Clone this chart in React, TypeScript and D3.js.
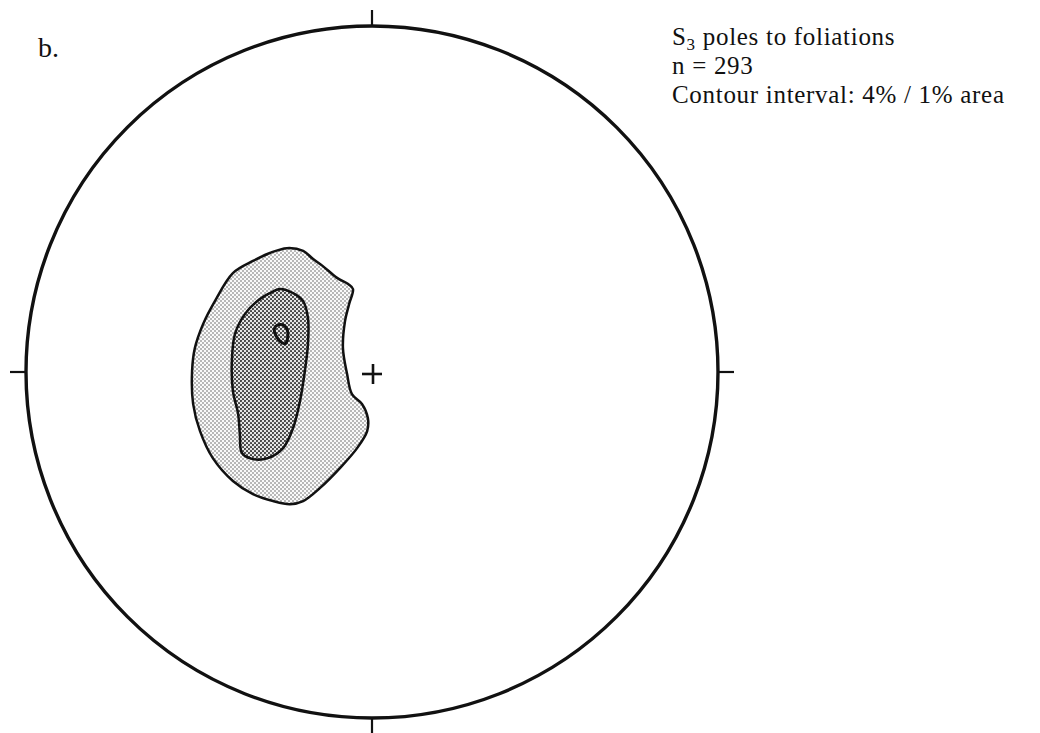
import React from "react";
import * as d3 from "d3";

// Stereonet contour lines, in unit-circle coordinates (x east, y north)
const outerContour: [number, number][] = [
  [-0.246, 0.358], [-0.199, 0.35], [-0.171, 0.327], [-0.142, 0.306], [-0.101, 0.272],
  [-0.069, 0.254], [-0.055, 0.24], [-0.066, 0.197], [-0.078, 0.147], [-0.084, 0.069],
  [-0.072, -0.006], [-0.058, -0.064], [-0.029, -0.092], [-0.012, -0.133], [-0.014, -0.171],
  [-0.043, -0.22], [-0.092, -0.277], [-0.15, -0.335], [-0.199, -0.373], [-0.237, -0.382],
  [-0.286, -0.373], [-0.344, -0.353], [-0.402, -0.315], [-0.46, -0.249], [-0.497, -0.171],
  [-0.517, -0.092], [-0.52, 0.003], [-0.512, 0.069], [-0.488, 0.139], [-0.454, 0.205],
  [-0.402, 0.286], [-0.344, 0.321], [-0.295, 0.344],
];

const middleContour: [number, number][] = [
  [-0.266, 0.24], [-0.228, 0.228], [-0.199, 0.205], [-0.185, 0.156], [-0.185, 0.081],
  [-0.194, 0.003], [-0.208, -0.084], [-0.228, -0.162], [-0.257, -0.22], [-0.301, -0.249],
  [-0.347, -0.251], [-0.376, -0.234], [-0.382, -0.179], [-0.387, -0.121], [-0.402, -0.055],
  [-0.405, 0.032], [-0.396, 0.11], [-0.367, 0.168], [-0.324, 0.211], [-0.295, 0.228],
];

const innerContour: [number, number][] = [
  [-0.282, 0.126], [-0.272, 0.136], [-0.255, 0.135], [-0.244, 0.119],
  [-0.244, 0.097], [-0.25, 0.082], [-0.261, 0.085], [-0.277, 0.104],
];

// Cardinal tick directions on the primitive circle
const cardinalTicks: [number, number][] = [[0, 1], [1, 0], [0, -1], [-1, 0]];

const panelLabel = "b.";
const legendLines = ["poles to foliations", "n = 293", "Contour interval: 4% / 1% area"];

const CX = 372;
const CY = 372;
const R = 346;

export default function App() {
  const x = d3.scaleLinear().domain([-1, 1]).range([CX - R, CX + R]);
  const y = d3.scaleLinear().domain([-1, 1]).range([CY + R, CY - R]);

  const line = d3
    .line<[number, number]>()
    .x((d) => x(d[0]))
    .y((d) => y(d[1]))
    .curve(d3.curveCatmullRomClosed.alpha(0.5));

  const tickLen = 16;
  const serif = "'Liberation Serif', 'Times New Roman', serif";

  return (
    <svg
      width={1040}
      height={733}
      style={{ position: "absolute", left: 0, top: 0, background: "#fff" }}
    >
      <defs>
        <pattern id="lightDots" width={4} height={4} patternUnits="userSpaceOnUse">
          <rect width={4} height={4} fill="#fafafa" />
          <circle cx={1} cy={1} r={0.75} fill="#555" />
          <circle cx={3} cy={3} r={0.75} fill="#555" />
        </pattern>
        <pattern id="darkDots" width={4} height={4} patternUnits="userSpaceOnUse">
          <rect width={4} height={4} fill="#e6e6e6" />
          <circle cx={1} cy={1} r={1.05} fill="#3a3a3a" />
          <circle cx={3} cy={3} r={1.05} fill="#3a3a3a" />
        </pattern>
      </defs>

      {/* primitive circle */}
      <circle cx={x(0)} cy={y(0)} r={x(1) - x(0)} fill="none" stroke="#111" strokeWidth={3.4} />

      {cardinalTicks.map(([dx, dy], i) => (
        <line
          key={i}
          x1={x(dx)}
          y1={y(dy)}
          x2={x(dx) + dx * tickLen}
          y2={y(dy) - dy * tickLen}
          stroke="#111"
          strokeWidth={2.2}
        />
      ))}

      {/* contoured density */}
      <path d={line(outerContour) ?? ""} fill="url(#lightDots)" stroke="#111" strokeWidth={2.5} />
      <path d={line(middleContour) ?? ""} fill="url(#darkDots)" stroke="#111" strokeWidth={2.5} />
      <path d={line(innerContour) ?? ""} fill="url(#darkDots)" stroke="#111" strokeWidth={3} />

      {/* centre cross */}
      <line x1={x(0) - 10} y1={y(0) + 2} x2={x(0) + 10} y2={y(0) + 2} stroke="#111" strokeWidth={2.6} />
      <line x1={x(0) + 1} y1={y(0) - 8} x2={x(0) + 1} y2={y(0) + 12} stroke="#111" strokeWidth={2.6} />

      <text x={38} y={57} fontFamily={serif} fontSize={28} fill="#111">
        {panelLabel}
      </text>

      <g fontFamily={serif} fontSize={25} fill="#111">
        <text x={672} y={45} letterSpacing={0.7}>
          S<tspan fontSize={17} dy={5}>3</tspan>
          <tspan dy={-5}> {legendLines[0]}</tspan>
        </text>
        <text x={672} y={74} letterSpacing={0.7}>{legendLines[1]}</text>
        <text x={672} y={103} letterSpacing={0.7}>{legendLines[2]}</text>
      </g>
    </svg>
  );
}
